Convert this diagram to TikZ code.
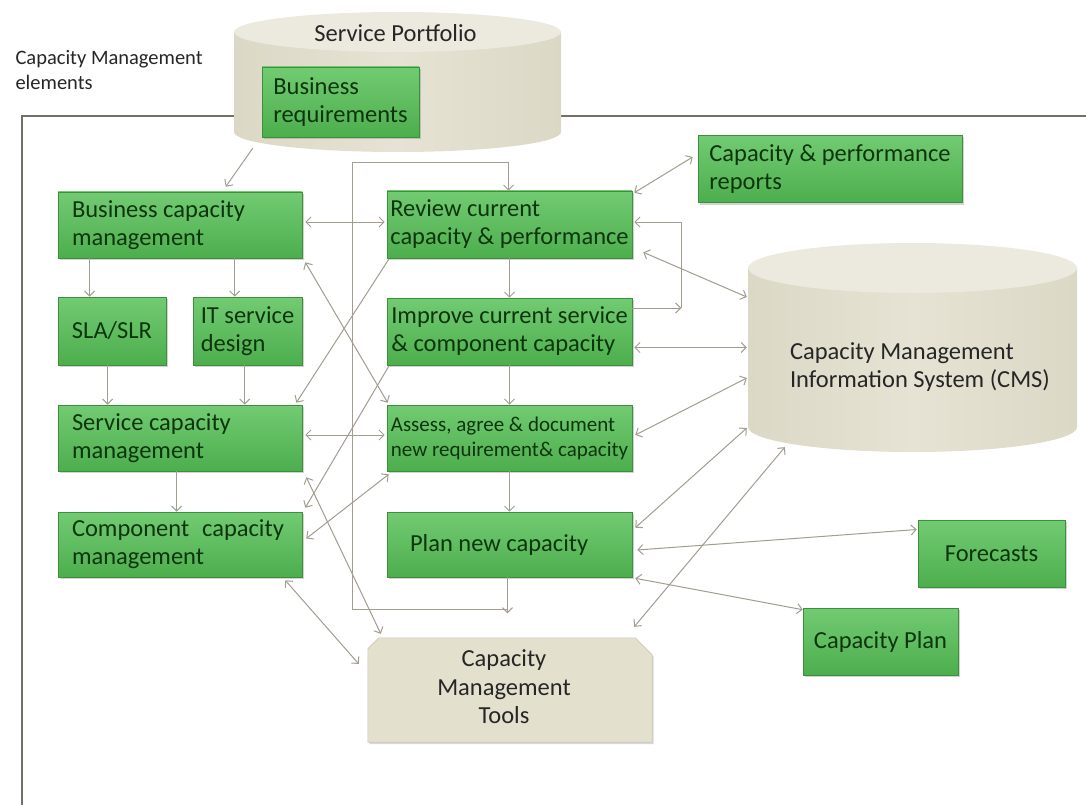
\documentclass[tikz,border=0pt]{standalone}
\usepackage{fontspec}
\setmainfont{Carlito}
\usetikzlibrary{arrows.meta,calc,shadows}
\definecolor{gtop}{HTML}{72CB72}
\definecolor{gbot}{HTML}{4DAE4D}
\definecolor{gborder}{HTML}{3C903C}
\definecolor{gtext}{HTML}{0D350D}
\definecolor{cylside}{HTML}{DCD8C6}
\definecolor{cylmid}{HTML}{E6E3D4}
\definecolor{cyltop}{HTML}{ECE9DE}
\definecolor{toolsfill}{HTML}{E4E0CE}
\definecolor{toolsedge}{HTML}{CDC9B6}
\definecolor{conncol}{HTML}{A29D90}
\definecolor{framecol}{HTML}{737066}
\definecolor{labeltext}{HTML}{262626}
\begin{document}
\begin{tikzpicture}[x=1pt,y=-1pt,
  >={Straight Barb[length=5pt,width=10pt]},
  gbox/.style={draw=gborder, line width=0.6pt, top color=gtop, bottom color=gbot,
    text=gtext, font=\fontsize{24.5}{28}\selectfont, align=flush left, inner sep=0pt,
    drop shadow={shadow xshift=1.5pt, shadow yshift=-2pt, opacity=0.35}},
  conn/.style={draw=conncol, line width=1pt},
  anchorbox/.style={inner sep=0pt, draw=none},
  plainlabel/.style={text=labeltext, font=\fontsize{24.5}{28.5}\selectfont}]
\useasboundingbox (0,0) rectangle (1086,805);
\fill[white] (0,0) rectangle (1086,805);

% frame
\draw[framecol, line width=1.3pt] (22,805) -- (22,116) -- (1086,116);

% label
\node[anchor=west, align=flush left, text=labeltext, font=\fontsize{20.5}{25}\selectfont] (lbl) at (12,70) {Capacity Management\\elements};

% Service Portfolio cylinder
\node[anchorbox, minimum width=327pt, minimum height=140pt] (sp) at (397.5,82) {};
\shade[left color=cylside, right color=cylside, middle color=cylmid]
  (234,32) -- (234,132) arc[start angle=180, end angle=0, x radius=163.5, y radius=20] -- (561,32) -- cycle;
\fill[cyltop] (397.5,32) ellipse[x radius=163.5, y radius=20];
\node[plainlabel] (splbl) at (395.5,33) {Service Portfolio};

% CMS cylinder
\node[anchorbox, minimum width=329pt, minimum height=209pt] (cms) at (912.5,347.5) {};
\shade[left color=cylside, right color=cylside, middle color=cylmid]
  (748,268) -- (748,427) arc[start angle=180, end angle=0, x radius=164.5, y radius=25] -- (1077,268) -- cycle;
\fill[cyltop] (912.5,268) ellipse[x radius=164.5, y radius=25];
\node[plainlabel, align=flush left] (cmslbl) at (920,367) {Capacity Management\\Information System (CMS)};

% Tools
\node[anchorbox, minimum width=284pt, minimum height=104pt] (tools) at (510,690) {};
\fill[toolsfill, draw=toolsedge, line width=0.6pt, drop shadow={shadow xshift=1.5pt, shadow yshift=-2pt, opacity=0.3}]
  (tools.south west) -- ($(tools.north west)+(0,11)$) -- ($(tools.north west)+(11,0)$)
  -- ($(tools.north east)+(-17,0)$) -- ($(tools.north east)+(0,17)$) -- (tools.south east) -- cycle;
\node[plainlabel, align=center] (toolslbl) at (504,687) {Capacity\\Management\\Tools};

% green boxes
\node[gbox, minimum width=157pt, minimum height=70pt] (br) at (340.5,102) {Business\\requirements};
\node[gbox, minimum width=244pt, minimum height=66pt, text width=216pt] (bcm) at (180,225) {Business capacity\\management};
\node[gbox, minimum width=108pt, minimum height=68pt] (sla) at (112,331) {SLA/SLR};
\node[gbox, minimum width=109pt, minimum height=68pt] (itsd) at (247.5,331) {IT service\\design};
\node[gbox, minimum width=244pt, minimum height=66pt, text width=216pt] (scm) at (180,438) {Service capacity\\management};
\node[gbox, minimum width=244pt, minimum height=65pt, text width=216pt] (ccm) at (180,544.5) {Component\hspace{0.3em} capacity\\management};
\node[gbox, minimum width=245pt, minimum height=67pt] (rev) at (509.5,224.5) {Review current\\capacity \& performance};
\node[gbox, minimum width=245pt, minimum height=67pt] (imp) at (509.5,331.5) {Improve current service\\\& component capacity};
\node[gbox, minimum width=245pt, minimum height=66pt, font=\fontsize{21}{25}\selectfont] (ass) at (509.5,438) {Assess, agree \& document\\new requirement\& capacity};
\node[gbox, minimum width=245pt, minimum height=65pt, text width=199pt] (plan) at (509.5,544.5) {Plan new capacity};
\node[gbox, minimum width=264pt, minimum height=67pt] (rep) at (830,169) {Capacity \& performance\\reports};
\node[gbox, minimum width=147pt, minimum height=67pt] (fc) at (991.5,553.5) {Forecasts};
\node[gbox, minimum width=155pt, minimum height=67pt] (cp) at (880.5,641.5) {Capacity Plan};

% connectors
\draw[conn,->] ($(sp.south west)+(19,-4)$) -- ($(bcm.north west)+(168,-5)$);
\draw[conn,->] ($(plan.south)+(-2,0)$) -- ($(plan.south)+(-2,36)$);
\draw[conn,->] ($(plan.south)+(-2,32)$) -- ($(plan.south)+(-157,32)$) -- ($(rev.north)+(-157,-28)$) -- ($(rev.north)+(-1,-28)$) -- ($(rev.north)+(-1,0)$);
\draw[conn,->] (rev.south) -- (imp.north);
\draw[conn,->] (imp.south) -- (ass.north);
\draw[conn,->] (ass.south) -- (plan.north);
\draw[conn,<->] ($(bcm.east)+(3,-3)$) -- ($(rev.west)+(-2,-2.5)$);
\draw[conn,<->] ($(scm.east)+(3,-3)$) -- ($(ass.west)+(-2,-3)$);
\draw[conn,->] ($(bcm.south west)+(32,0)$) -- ($(sla.north west)+(32,0)$);
\draw[conn,->] ($(bcm.south west)+(177,0)$) -- ($(itsd.north west)+(42,0)$);
\draw[conn,->] ($(sla.south west)+(50,0)$) -- ($(scm.north west)+(50,0)$);
\draw[conn,->] ($(itsd.south west)+(52,0)$) -- ($(scm.north west)+(187,0)$);
\draw[conn,->] ($(scm.south west)+(119,0)$) -- ($(ccm.north west)+(119,0)$);
\draw[conn,<->] ($(bcm.south east)+(3,4)$) -- ($(ass.north west)+(1,-2)$);
\draw[conn,->] ($(rev.south west)+(2,1)$) -- ($(scm.north east)+(-6,-2)$);
\draw[conn,->] ($(imp.south west)+(2,1)$) -- ($(ccm.north east)+(3,-4)$);
\draw[conn,<->] ($(ccm.east)+(4,-6)$) -- ($(ass.south west)+(2,3)$);
\draw[conn,<->] ($(scm.south east)+(4,6)$) -- ($(tools.north west)+(13,-4)$);
\draw[conn,<->] ($(ccm.south east)+(-17,3)$) -- ($(tools.west)+(-9,-26)$);
\draw[conn,<->] ($(rev.north east)+(2,2)$) -- ($(rep.west)+(-5,-12)$);
\draw[conn,->] ($(imp.east)+(0,-23.5)$) -- ($(imp.east)+(49,-23.5)$);
\draw[conn,->] ($(imp.east)+(49,-23.5)$) -- ($(rev.east)+(49,-2.5)$) -- ($(rev.east)+(2,-2.5)$);
\draw[conn,<->] ($(rev.south east)+(11,-6)$) -- ($(cms.west)+(-1,-50.5)$);
\draw[conn,<->] ($(imp.east)+(2,16)$) -- ($(cms.west)+(-1,0)$);
\draw[conn,<->] ($(ass.east)+(3,-3)$) -- ($(cms.west)+(-1,30.5)$);
\draw[conn,<->] ($(plan.north east)+(3,16)$) -- ($(cms.west)+(-1,80.5)$);
\draw[conn,<->] ($(plan.east)+(5,5.5)$) -- ($(fc.west)+(-1,-24)$);
\draw[conn,<->] ($(plan.south east)+(3,1)$) -- ($(cp.north west)+(0,2)$);
\draw[conn,<->] ($(tools.north east)+(-18,-11)$) -- ($(cms.south west)+(37,-5)$);
\end{tikzpicture}
\end{document}
